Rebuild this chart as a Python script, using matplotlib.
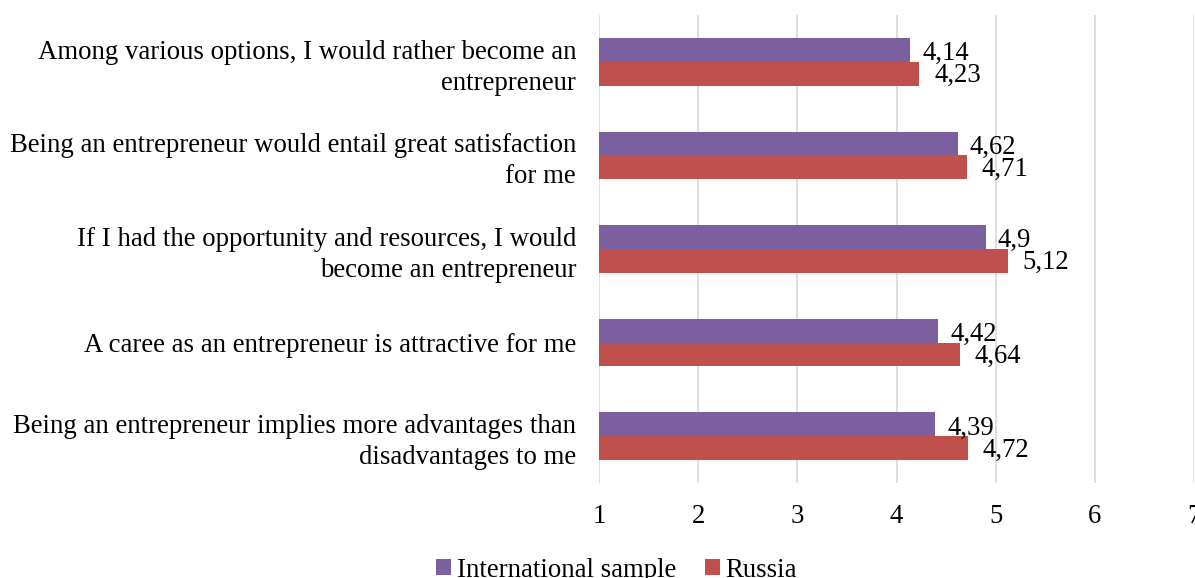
import numpy as np
import matplotlib.pyplot as plt

plt.rcParams['font.family'] = ['Liberation Serif', 'DejaVu Serif']

# Survey statements (top to bottom) and mean scores
statements = [
    "Among various options, I would rather become an\nentrepreneur",
    "Being an entrepreneur would entail great satisfaction\nfor me",
    "If I had the opportunity and resources, I would\nbecome an entrepreneur",
    "A caree as an entrepreneur is attractive for me",
    "Being an entrepreneur implies more advantages than\ndisadvantages to me",
]
international = [4.14, 4.62, 4.90, 4.42, 4.39]
russia = [4.23, 4.71, 5.12, 4.64, 4.72]
series_names = ["International sample", "Russia"]
colors = ["#7B5F9E", "#C0504D"]

FS = 19.25

fig = plt.figure(figsize=(11.95, 5.78), dpi=100)
ax = fig.add_axes([599 / 1195, 1 - 483 / 578, 595 / 1195, 468 / 578])

y = np.arange(len(statements))
h = 0.255

ax.barh(y - h / 2, international, height=h, left=0, color=colors[0],
        label=series_names[0], zorder=2)
ax.barh(y + h / 2, russia, height=h, left=0, color=colors[1],
        label=series_names[1], zorder=2)

def fmt(v):
    s = f"{v:.2f}".rstrip("0").rstrip(".")
    return s.replace(".", ",")

for i in range(len(statements)):
    ax.text(international[i] + 0.12, y[i] - h / 2 + 0.04, fmt(international[i]),
            va="center", ha="left", fontsize=FS)
    ax.text(russia[i] + 0.15, y[i] + h / 2 + 0.02, fmt(russia[i]),
            va="center", ha="left", fontsize=FS)

ax.set_xlim(1, 7)
ax.set_ylim(len(statements) - 0.5, -0.5)
ax.set_xticks(range(1, 8))
ax.set_xticklabels([str(t) for t in range(1, 8)], fontsize=FS)
ax.set_yticks(y)
ax.set_yticklabels(statements, fontsize=FS, linespacing=1.3)
ax.tick_params(axis="both", length=0)
ax.tick_params(axis="x", pad=15)
ax.tick_params(axis="y", pad=16.5)
ax.grid(axis="x", color="#D9D9D9", linewidth=1.2, zorder=0)
for s in ax.spines.values():
    s.set_visible(False)

fig.legend(loc="lower center", bbox_to_anchor=(0.516, -0.05), ncol=2,
           frameon=False, fontsize=FS, handlelength=0.55, handleheight=0.55,
           handletextpad=0.2, columnspacing=1.1)

fig.savefig("out.png", dpi=100)
